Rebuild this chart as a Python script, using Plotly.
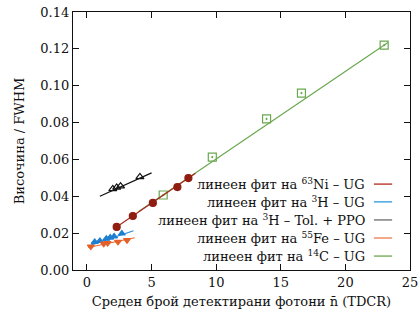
import plotly.graph_objects as go

# ---- data ----
ni_x = [2.3, 3.55, 5.1, 7.0, 7.85]
ni_y = [0.0234, 0.0293, 0.0364, 0.0450, 0.0499]
ni_fit_x = [2.2, 8.4]
ni_fit_y = [0.0229, 0.0525]

h3_x = [0.6, 1.0, 1.5, 1.8, 2.1, 2.7]
h3_y = [0.0152, 0.0158, 0.0170, 0.0176, 0.0182, 0.0198]
h3_fit_x = [0.3, 3.6]
h3_fit_y = [0.0135, 0.0213]

tol_x = [2.0, 2.3, 2.6, 4.1]
tol_y = [0.0440, 0.0448, 0.0455, 0.0505]
tol_fit_x = [1.0, 5.0]
tol_fit_y = [0.0400, 0.0527]

fe_x = [0.3, 1.3, 1.6, 2.4, 3.1]
fe_y = [0.0127, 0.0143, 0.0146, 0.0153, 0.0162]
fe_fit_x = [0.1, 3.7]
fe_fit_y = [0.0122, 0.0175]

c14_x = [5.9, 9.7, 13.9, 16.6, 23.0]
c14_y = [0.0407, 0.0613, 0.0820, 0.0960, 0.1220]
c14_fit_x = [4.0, 23.3]
c14_fit_y = [0.0318, 0.1235]

x_ticks = [0, 5, 10, 15, 20, 25]
y_ticks = [0.00, 0.02, 0.04, 0.06, 0.08, 0.10, 0.12, 0.14]

legend_labels = [
    "линеен фит на <sup>63</sup>Ni – UG",
    "линеен фит на <sup>3</sup>H – UG",
    "линеен фит на <sup>3</sup>H – Tol. + PPO",
    "линеен фит на <sup>55</sup>Fe – UG",
    "линеен фит на <sup>14</sup>C – UG",
]
legend_colors = ["#b3281b", "#2a97e0", "#6b6b6b", "#ee7a4e", "#6aa84f"]

FONT = "DejaVu Serif"

fig = go.Figure()

def fit(x, y, color):
    fig.add_trace(go.Scatter(x=x, y=y, mode="lines", line=dict(color=color, width=1.2),
                             showlegend=False, hoverinfo="skip"))

def pts(x, y, symbol, color, size, fill=None):
    fig.add_trace(go.Scatter(x=x, y=y, mode="markers", showlegend=False,
                             marker=dict(symbol=symbol, size=size, color=fill or color,
                                         line=dict(color=color, width=1.2))))

fit(c14_fit_x, c14_fit_y, "#6aa84f")
pts(c14_x, c14_y, "square-open-dot", "#6aa84f", 8)
fit(ni_fit_x, ni_fit_y, "#a8291b")
pts(ni_x, ni_y, "circle", "#8f1d12", 7)
fit(h3_fit_x, h3_fit_y, "#2a8fe0")
pts(h3_x, h3_y, "triangle-up", "#1f7fd0", 6)
fit(fe_fit_x, fe_fit_y, "#ef6a2a")
pts(fe_x, fe_y, "triangle-down", "#e5602a", 6)
fit(tol_fit_x, tol_fit_y, "#111111")
pts(tol_x, tol_y, "triangle-up-open", "#111111", 7)

# custom legend (text left, line sample right)
row_y = [0.333, 0.264, 0.194, 0.124, 0.054]
for lab, col, yy in zip(legend_labels, legend_colors, row_y):
    fig.add_annotation(x=0.872, y=yy, xref="paper", yref="paper", text=lab,
                       showarrow=False, xanchor="right", yanchor="middle",
                       font=dict(family=FONT, size=13, color="#111"))
    fig.add_shape(type="line", xref="paper", yref="paper", x0=0.893, x1=0.947,
                  y0=yy, y1=yy, line=dict(color=col, width=1.3))

axis_common = dict(showgrid=False, zeroline=False, showline=True, linecolor="#111",
                   linewidth=1.2, mirror="ticks", ticks="inside", ticklen=6,
                   tickcolor="#111", tickwidth=1, automargin=False,
                   ticklabeloverflow="allow",
                   tickfont=dict(family=FONT, size=13, color="#111"))

fig.update_xaxes(range=[-1.08, 25], tickvals=x_ticks, ticktext=[str(t) for t in x_ticks],
                 title=dict(text="Среден брой детектирани фотони n̄ (TDCR)",
                            font=dict(family=FONT, size=13, color="#111"), standoff=8),
                 **axis_common)
fig.update_yaxes(range=[0, 0.14], tickvals=y_ticks, ticktext=[f"{t:.2f}" for t in y_ticks],
                 title=dict(text="Височина / FWHM",
                            font=dict(family=FONT, size=13, color="#111"), standoff=12),
                 **axis_common)

fig.update_layout(width=418, height=319, margin=dict(l=73, r=8, t=12, b=49),
                  paper_bgcolor="white", plot_bgcolor="white", showlegend=False,
                  font=dict(family=FONT))

fig.write_html("out.html", config={"displayModeBar": False, "staticPlot": True},
               post_script="document.body.style.margin='0';document.body.style.overflow='hidden';")
